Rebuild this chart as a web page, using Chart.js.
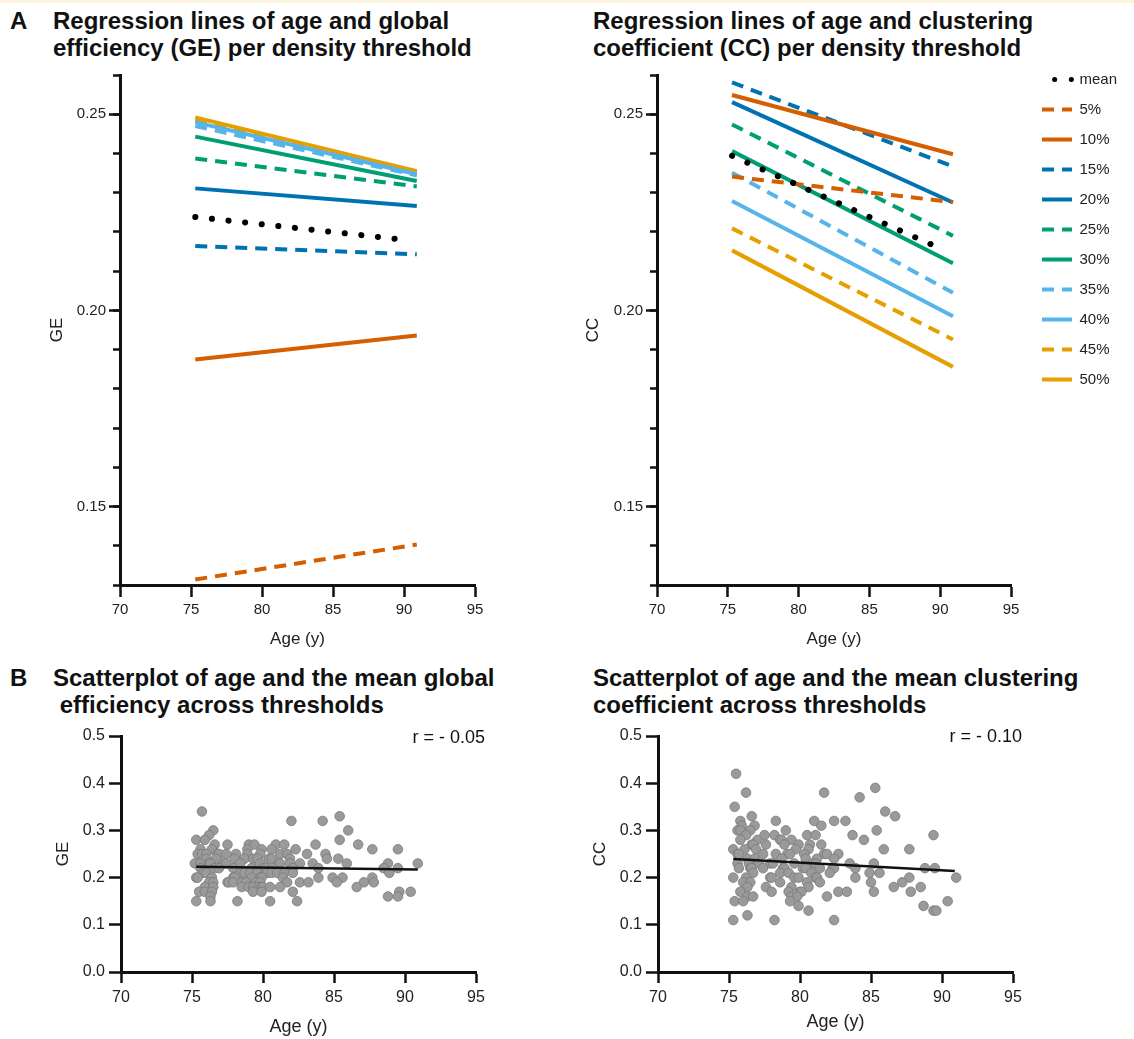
<!DOCTYPE html>
<html><head><meta charset="utf-8"><title>Age vs GE and CC</title>
<script src="https://cdn.jsdelivr.net/npm/chart.js@4.4.1/dist/chart.umd.min.js"></script>
<style>
html,body{margin:0;padding:0;background:#fff;}
body{width:1134px;height:1039px;overflow:hidden;position:relative;font-family:"Liberation Sans",Arial,Helvetica,sans-serif;color:#111;}
.band{position:absolute;left:0;top:0;width:1134px;height:3px;background:#fcf4dc;}
.t{position:absolute;font-weight:bold;font-size:24px;line-height:27px;white-space:pre;color:#111;}
canvas{position:absolute;}
.r{position:absolute;font-size:18px;line-height:20px;color:#111;text-align:right;width:120px;}
</style></head><body>
<div class="band"></div>
<div class="t" style="left:10px;top:7px">A</div>
<div class="t" style="left:53px;top:7px">Regression lines of age and global
efficiency (GE) per density threshold</div>
<div class="t" style="left:593px;top:7px">Regression lines of age and clustering
coefficient (CC) per density threshold</div>
<div class="t" style="left:10px;top:664px">B</div>
<div class="t" style="left:53px;top:664px">Scatterplot of age and the mean global
 efficiency across thresholds</div>
<div class="t" style="left:593px;top:664px">Scatterplot of age and the mean clustering
coefficient across thresholds</div>
<canvas id="c1" width="560" height="600" style="left:0;top:60px"></canvas>
<canvas id="c2" width="600" height="603" style="left:560px;top:57px"></canvas>
<canvas id="c3" width="560" height="339" style="left:0;top:700px"></canvas>
<canvas id="c4" width="560" height="339" style="left:560px;top:700px"></canvas>
<div class="r" style="left:365px;top:727px">r = - 0.05</div>
<div class="r" style="left:902px;top:726px">r = - 0.10</div>
<script>
// ---------- data ----------
const seriesLabels = ['mean','5%','10%','15%','20%','25%','30%','35%','40%','45%','50%'];
const ageStart = [75.3,75.3,75.3,75.3,75.3,75.3,75.3,75.3,75.3,75.3,75.3];
const ageEnd   = [90.0,90.9,90.9,90.9,90.9,90.9,90.9,90.9,90.9,90.9,90.9];
const geStart = [0.2238,0.1314,0.1875,0.2164,0.2311,0.2387,0.2443,0.2470,0.2480,0.2486,0.2492];
const geEnd   = [0.2180,0.1403,0.1936,0.2143,0.2266,0.2316,0.2330,0.2344,0.2347,0.2351,0.2355];
const ccStart = [0.2394,0.2341,0.2549,0.2581,0.2531,0.2474,0.2406,0.2351,0.2279,0.2209,0.2153];
const ccEnd   = [0.2158,0.2276,0.2398,0.2367,0.2275,0.2190,0.2120,0.2045,0.1985,0.1926,0.1856];

const xTicks = [70,75,80,85,90,95];
const topYTicks = [0.15,0.20,0.25];
const bottomYTicks = [0.0,0.1,0.2,0.3,0.4,0.5];

const geAge = [
75.7,
85.4,
82.0,84.2,
76.5,86.0,
76.2,
75.3,75.9,85.4,
76.6,77.5,79.0,79.4,80.9,81.5,83.7,86.7,
75.6,76.4,78.9,79.9,80.6,82.3,87.7,89.5,
75.4,75.7,76.0,76.8,76.9,77.4,78.1,78.9,79.8,81.2,81.7,83.1,84.4,
76.0,76.7,78.0,78.7,79.3,79.6,80.4,80.6,81.9,84.5,85.3,
75.2,75.6,76.2,76.3,77.2,77.4,78.4,79.8,81.1,81.2,81.9,82.6,83.5,85.9,88.8,90.9,
75.6,76.6,76.9,77.9,79.2,80.0,80.2,80.7,82.1,83.9,88.5,89.5,
75.8,76.0,78.4,78.7,79.1,79.6,80.3,80.6,81.0,81.5,82.1,88.9,
75.3,75.4,76.4,77.9,78.0,79.2,79.8,79.9,81.4,83.9,84.9,85.6,87.7,
76.2,76.5,77.5,77.6,77.9,78.5,78.8,79.5,79.8,81.7,82.6,83.2,85.2,87.1,87.8,
75.9,76.5,78.5,79.0,79.3,79.7,79.9,80.0,80.5,81.2,86.6,
75.5,75.9,76.4,79.3,79.9,82.1,89.6,90.4,
76.3,88.8,89.5,
75.3,76.3,78.2,80.5,82.4];
const geValue = [
0.34,
0.33,
0.32,0.32,
0.30,0.30,
0.29,
0.28,0.28,0.28,
0.27,0.27,0.27,0.27,0.27,0.27,0.27,0.27,
0.26,0.26,0.26,0.26,0.26,0.26,0.26,0.26,
0.25,0.25,0.25,0.25,0.25,0.25,0.25,0.25,0.25,0.25,0.25,0.25,0.25,
0.24,0.24,0.24,0.24,0.24,0.24,0.24,0.24,0.24,0.24,0.24,
0.23,0.23,0.23,0.23,0.23,0.23,0.23,0.23,0.23,0.23,0.23,0.23,0.23,0.23,0.23,0.23,
0.22,0.22,0.22,0.22,0.22,0.22,0.22,0.22,0.22,0.22,0.22,0.22,
0.21,0.21,0.21,0.21,0.21,0.21,0.21,0.21,0.21,0.21,0.21,0.21,
0.20,0.20,0.20,0.20,0.20,0.20,0.20,0.20,0.20,0.20,0.20,0.20,0.20,
0.19,0.19,0.19,0.19,0.19,0.19,0.19,0.19,0.19,0.19,0.19,0.19,0.19,0.19,0.19,
0.18,0.18,0.18,0.18,0.18,0.18,0.18,0.18,0.18,0.18,0.18,
0.17,0.17,0.17,0.17,0.17,0.17,0.17,0.17,
0.16,0.16,0.16,
0.15,0.15,0.15,0.15,0.15];

const ccAge = [
75.5,
85.3,
76.2,81.7,
84.2,
75.4,
86.0,
76.6,86.7,
75.8,78.3,81.0,82.4,83.2,
75.9,76.8,81.5,
75.6,75.8,76.5,79.0,85.4,
76.2,77.5,78.2,80.5,81.1,83.7,89.4,
75.8,77.0,78.6,78.7,79.4,84.5,
76.6,76.7,77.6,78.9,79.9,80.7,81.5,
75.3,76.1,76.9,79.7,80.6,85.9,87.7,
75.6,75.7,77.4,78.3,79.1,79.3,80.3,81.7,81.9,82.7,
76.3,76.8,78.7,80.4,81.2,82.4,
75.6,76.4,77.1,77.9,78.1,79.6,80.9,81.1,83.5,85.2,
75.7,76.5,76.6,77.4,78.8,78.9,80.2,80.4,81.4,82.3,82.4,83.9,88.8,89.5,
76.7,78.6,79.2,80.8,82.1,84.9,85.6,
75.3,76.2,77.9,78.0,79.6,79.9,81.1,81.2,83.9,87.7,91.0,
76.0,76.5,78.6,80.5,81.4,85.0,87.2,
76.3,77.6,79.4,80.6,86.6,88.5,
75.8,78.0,79.2,80.0,80.1,82.7,83.3,85.2,87.8,
76.3,76.7,79.4,79.8,81.9,
75.4,76.0,79.3,90.4,
79.9,88.7,
80.6,89.4,89.6,
76.3,
75.3,78.2,82.4];
const ccValue = [
0.42,
0.39,
0.38,0.38,
0.37,
0.35,
0.34,
0.33,0.33,
0.32,0.32,0.32,0.32,0.32,
0.31,0.31,0.31,
0.30,0.30,0.30,0.30,0.30,
0.29,0.29,0.29,0.29,0.29,0.29,0.29,
0.28,0.28,0.28,0.28,0.28,0.28,
0.27,0.27,0.27,0.27,0.27,0.27,0.27,
0.26,0.26,0.26,0.26,0.26,0.26,0.26,
0.25,0.25,0.25,0.25,0.25,0.25,0.25,0.25,0.25,0.25,
0.24,0.24,0.24,0.24,0.24,0.24,
0.23,0.23,0.23,0.23,0.23,0.23,0.23,0.23,0.23,0.23,
0.22,0.22,0.22,0.22,0.22,0.22,0.22,0.22,0.22,0.22,0.22,0.22,0.22,0.22,
0.21,0.21,0.21,0.21,0.21,0.21,0.21,
0.20,0.20,0.20,0.20,0.20,0.20,0.20,0.20,0.20,0.20,0.20,
0.19,0.19,0.19,0.19,0.19,0.19,0.19,
0.18,0.18,0.18,0.18,0.18,0.18,
0.17,0.17,0.17,0.17,0.17,0.17,0.17,0.17,0.17,
0.16,0.16,0.16,0.16,0.16,
0.15,0.15,0.15,0.15,
0.14,0.14,
0.13,0.13,0.13,
0.12,
0.11,0.11,0.11];

const fitAge = [75.3, 90.9];
const geFit = [0.223, 0.217];
const ccFit = [0.2394, 0.2141];

// ---------- styles ----------
const VER = '#D55E00', BLU = '#0072B2', GRN = '#009E73', SKY = '#56B4E9', ORA = '#E69F00';
const seriesColors = ['#000000', VER, VER, BLU, BLU, GRN, GRN, SKY, SKY, ORA, ORA];
const DOT = [0.1, 16.6], DASH = [12, 8], SOLID = [];
const seriesDash = [DOT, DASH, SOLID, DASH, SOLID, DASH, SOLID, DASH, SOLID, DASH, SOLID];

Chart.defaults.font.family = '"Liberation Sans", Arial, Helvetica, sans-serif';
Chart.defaults.color = '#222';

function lineDatasets(startVals, endVals) {
  return seriesLabels.map((lab, i) => ({
    label: lab,
    data: [{x: ageStart[i], y: startVals[i]}, {x: ageEnd[i], y: endVals[i]}],
    borderColor: seriesColors[i],
    backgroundColor: seriesColors[i],
    borderWidth: i === 0 ? 6 : 4,
    borderDash: seriesDash[i],
    borderCapStyle: i === 0 ? 'round' : 'butt',
    pointRadius: 0, pointHoverRadius: 0, fill: false, tension: 0
  }));
}

const AX = '#111';
function xScale(o) {
  return {
    type: 'linear', position: 'bottom', min: 70, max: 95,
    afterBuildTicks: s => { s.ticks = xTicks.map(v => ({value: v})); },
    afterFit: s => { s.height = o.h; },
    grid: {drawOnChartArea: false, drawTicks: true, tickLength: o.tl, tickWidth: 2.5, tickColor: AX},
    border: {display: true, color: AX, width: 3},
    ticks: {font: {size: o.fs}, color: '#222', padding: o.pad, maxRotation: 0, autoSkip: false, callback: v => String(v)},
    title: {display: true, text: 'Age (y)', font: {size: o.tfs}, color: '#222', padding: {top: 0, bottom: o.tp}}
  };
}
function yScale(o) {
  return {
    type: 'linear', position: 'left', weight: 1, min: o.min, max: o.max,
    afterBuildTicks: s => { s.ticks = o.ticks.map(v => ({value: v})); },
    afterFit: s => { s.width = o.w; },
    grid: {drawOnChartArea: false, drawTicks: true, tickLength: o.tl, tickWidth: 2.5, tickColor: AX},
    border: {display: true, color: AX, width: 3},
    ticks: {font: {size: o.fs}, color: '#222', padding: o.pad, autoSkip: false, callback: v => v.toFixed(o.dec)},
    title: {display: true, text: o.title, font: {size: 17}, color: '#222', padding: {top: o.tp, bottom: 0}}
  };
}
function yMinorScale() {
  return {
    type: 'linear', position: 'left', weight: 0, min: 0.13, max: 0.26,
    afterFit: s => { s.width = 0; },
    ticks: {display: false, stepSize: 0.01, autoSkip: false},
    grid: {drawOnChartArea: false, drawTicks: true, tickLength: 7, tickWidth: 2.5, tickColor: AX},
    border: {display: false}
  };
}
function alignRight(ch, target) {
  for (let k = 0; k < 3; k++) {
    const d = ch.chartArea.right - target;
    if (Math.abs(d) <= 0.25) break;
    const p = ch.options.layout.padding;
    ch.options.layout.padding = {left: p.left, top: p.top, bottom: p.bottom, right: p.right + d};
    ch.update('none');
  }
}

// ---------- A left: GE regression lines ----------
const c1 = new Chart(document.getElementById('c1'), {
  type: 'line',
  data: {datasets: lineDatasets(geStart, geEnd)},
  options: {
    responsive: false, animation: false, events: [],
    layout: {padding: {left: 0, right: 85, top: 15, bottom: 0}},
    plugins: {legend: {display: false}, tooltip: {enabled: false}},
    scales: {
      x: xScale({h: 75, tl: 12, fs: 15, pad: 4, tfs: 17, tp: 10}),
      y: yScale({min: 0.13, max: 0.26, ticks: topYTicks, w: 120, tl: 11, fs: 15, pad: 3, dec: 2, title: 'GE', tp: 47}),
      yMinor: yMinorScale()
    }
  }
});
alignRight(c1, 475);

// ---------- A right: CC regression lines + legend ----------
const c2 = new Chart(document.getElementById('c2'), {
  type: 'line',
  data: {datasets: lineDatasets(ccStart, ccEnd)},
  options: {
    responsive: false, animation: false, events: [],
    layout: {padding: {left: 0, right: 28, top: 0, bottom: 0}},
    plugins: {
      tooltip: {enabled: false},
      legend: {
        display: true, position: 'right', align: 'start', fullSize: true, maxWidth: 180,
        labels: {
          usePointStyle: true, pointStyle: 'line', pointStyleWidth: 30, boxHeight: 15,
          padding: 15, font: {size: 15}, color: '#222',
          generateLabels: ch => ch.data.datasets.map((ds, i) => ({
            text: ds.label, strokeStyle: ds.borderColor, fillStyle: ds.borderColor,
            lineWidth: i === 0 ? 5 : ds.borderWidth, lineDash: ds.borderDash, lineDashOffset: i === 0 ? 4.1 : 0,
            lineCap: ds.borderCapStyle, pointStyle: 'line', hidden: false, datasetIndex: i, fontColor: '#222'
          }))
        }
      }
    },
    scales: {
      x: xScale({h: 75, tl: 12, fs: 15, pad: 4, tfs: 17, tp: 10}),
      xTop: {type: 'linear', position: 'top', min: 70, max: 95, afterFit: s => { s.height = 18; },
             ticks: {display: false}, grid: {display: false}, border: {display: false}},
      y: yScale({min: 0.13, max: 0.26, ticks: topYTicks, w: 97, tl: 11, fs: 15, pad: 3, dec: 2, title: 'CC', tp: 23}),
      yMinor: yMinorScale(),
      yRight: {type: 'linear', position: 'right', min: 0.13, max: 0.26, afterFit: s => { s.width = 16; },
               ticks: {display: false}, grid: {display: false}, border: {display: false}}
    }
  }
});
alignRight(c2, 451);

// ---------- B: scatter plots ----------
function scatterChart(id, ages, vals, fit, yTitle, yW, padRight, titlePadY, titlePadX) {
  return new Chart(document.getElementById(id), {
    type: 'scatter',
    data: {datasets: [
      {type: 'line', label: 'Regression line', data: [{x: fitAge[0], y: fit[0]}, {x: fitAge[1], y: fit[1]}],
       borderColor: '#111', borderWidth: 2.5, pointRadius: 0, fill: false, tension: 0},
      {type: 'scatter', label: yTitle, data: ages.map((a, i) => ({x: a, y: vals[i]})),
       backgroundColor: '#9a9a9a', borderColor: '#7a7a7a', borderWidth: 0.8, pointRadius: 4.8}
    ]},
    options: {
      responsive: false, animation: false, events: [],
      layout: {padding: {left: 0, right: padRight, top: 36, bottom: 0}},
      plugins: {legend: {display: false}, tooltip: {enabled: false}},
      scales: {
        x: xScale({h: 67, tl: 11, fs: 16, pad: 5, tfs: 18, tp: titlePadX}),
        y: yScale({min: 0, max: 0.5, ticks: bottomYTicks, w: yW, tl: 12, fs: 16, pad: 4, dec: 1, title: yTitle, tp: titlePadY})
      }
    }
  });
}
const c3 = scatterChart('c3', geAge, geValue, geFit, 'GE', 121, 84, 53, 1);
alignRight(c3, 476);
const c4 = scatterChart('c4', ccAge, ccValue, ccFit, 'CC', 98, 107, 30, 6);
alignRight(c4, 453);
</script>
</body></html>
